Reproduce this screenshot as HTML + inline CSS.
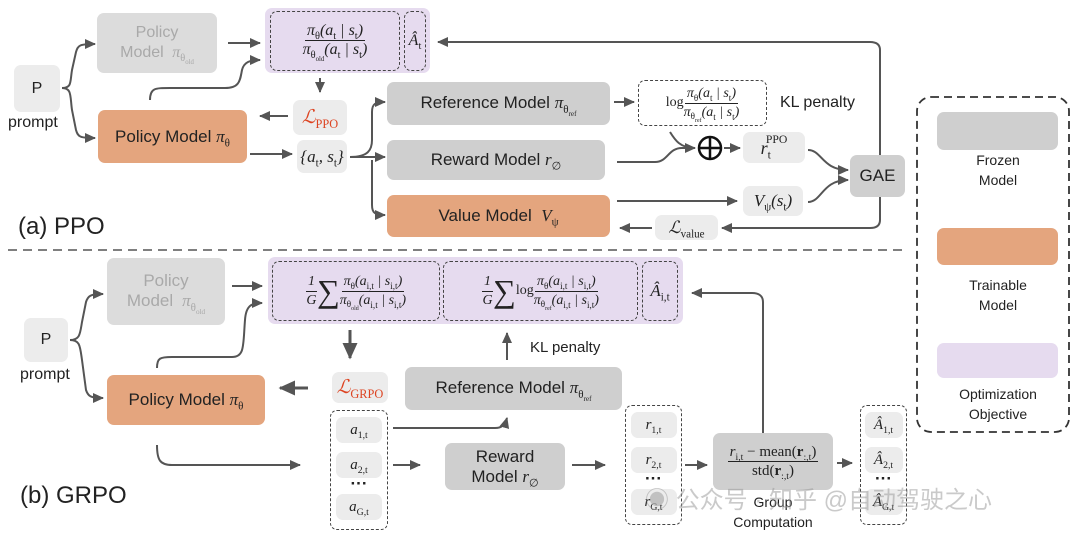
<!DOCTYPE html>
<html><head><meta charset="utf-8"><style>
body{margin:0;background:#fff;}
#c{position:relative;width:1080px;height:539px;overflow:hidden;font-family:"Liberation Sans",sans-serif;color:#222;}
.b{position:absolute;display:flex;align-items:center;justify-content:center;border-radius:7px;text-align:center;font-size:15px;line-height:20px;}
.g{background:#cfcfcf;}
.lg{background:#ececec;}
.o{background:#e4a57e;}
.p{background:#e6dbef;}
.f{background:#dcdcdc;color:#a9a9a9;}
.d{position:absolute;border:1.5px dashed #444;border-radius:7px;box-sizing:border-box;display:flex;align-items:center;justify-content:center;}
.m{font-family:"Liberation Serif",serif;font-style:italic;}
.fr{display:inline-flex;flex-direction:column;align-items:center;vertical-align:middle;font-family:"Liberation Serif",serif;font-style:italic;line-height:18px;}
.fr>span:first-child{border-bottom:1.2px solid #222;padding:0 2px;}
sub,sup{font-size:65%;font-style:normal;line-height:0;}
.t{position:absolute;font-size:15px;}
svg{position:absolute;left:0;top:0;}
.row{display:flex;align-items:center;}
</style></head><body><div id="c">
<svg width="1080" height="539" viewBox="0 0 1080 539">
<defs><marker id="a" markerWidth="6" markerHeight="6" refX="5" refY="3" orient="auto"><path d="M0,0.5 L5.5,3 L0,5.5 z" fill="#555"/></marker></defs>
<g stroke="#555" stroke-width="2" fill="none">
<path d="M62,88 C72,88 70,82 72,70 L76,52 C78,45 80,44 95,44" marker-end="url(#a)"/>
<path d="M62,88 C72,88 70,96 72,110 L76,130 C78,137 80,138 95,138" marker-end="url(#a)"/>
<path d="M228,43 H260" marker-end="url(#a)"/>
<path d="M150,100 C150,88 155,88 170,88 H225 C240,88 240,80 242,70 C244,62 250,60 260,60" marker-end="url(#a)"/>
<path d="M320,78 V92" marker-end="url(#a)"/>
<path d="M288,116 H260" marker-end="url(#a)"/>
<path d="M250,154 H292" marker-end="url(#a)"/>
<path d="M350,157 C368,157 372,150 372,140 V112 C372,104 375,102 385,102" marker-end="url(#a)"/>
<path d="M350,157 H385" marker-end="url(#a)"/>
<path d="M372,160 V205 C372,213 375,215 385,215" marker-end="url(#a)"/>
<path d="M614,102 H634" marker-end="url(#a)"/>
<path d="M617,162 H655 C668,162 668,148 682,148 H695" marker-end="url(#a)"/>
<path d="M670,132 C675,140 680,148 695,148"/>
<path d="M724,148 H740" marker-end="url(#a)"/>
<path d="M808,150 C822,150 822,170 848,170" marker-end="url(#a)"/>
<path d="M808,202 C822,202 822,180 848,180" marker-end="url(#a)"/>
<path d="M617,201 H737" marker-end="url(#a)"/>
<path d="M880,155 V50 C880,44 876,42 870,42 H438" marker-end="url(#a)"/>
<path d="M880,197 V220 C880,226 876,228 870,228 H722" marker-end="url(#a)"/>
<path d="M652,228 H620" marker-end="url(#a)"/>
<path d="M8,250 H908" stroke-dasharray="9,6" stroke-width="1.5"/>
<path d="M70,340 C80,340 80,334 82,322 L86,302 C88,296 90,294 103,294" marker-end="url(#a)"/>
<path d="M70,340 C80,340 80,346 82,360 L86,390 C88,396 90,398 103,398" marker-end="url(#a)"/>
<path d="M232,286 H262" marker-end="url(#a)"/>
<path d="M157,368 C157,358 160,357 172,357 H232 C245,357 243,345 245,320 C246,305 252,303 262,303" marker-end="url(#a)"/>
<path d="M350,330 V358" marker-end="url(#a)" stroke-width="3"/>
<path d="M308,388 H280" marker-end="url(#a)" stroke-width="3"/>
<path d="M157,445 C157,460 160,465 172,465 H300" marker-end="url(#a)"/>
<path d="M393,428 H495 C502,428 505,425 507,418" marker-end="url(#a)"/>
<path d="M393,465 H420" marker-end="url(#a)"/>
<path d="M572,465 H605" marker-end="url(#a)"/>
<path d="M685,465 H707" marker-end="url(#a)"/>
<path d="M837,463 H852" marker-end="url(#a)"/>
<path d="M763,433 V302 C763,296 759,293 752,293 H692" marker-end="url(#a)"/>
<path d="M507,360 V333" marker-end="url(#a)"/>
<rect x="917" y="97" width="152" height="335" rx="14" stroke="#333" stroke-dasharray="8,5" stroke-width="1.8"/>
</g>
<circle cx="710" cy="148" r="11" fill="none" stroke="#111" stroke-width="2.5"/>
<path d="M699,148 H721 M710,137 V159" stroke="#111" stroke-width="2.5"/>
</svg>

<div class="b f" style="left:97px;top:13px;width:120px;height:60px;font-size:16px;"><span>Policy<br>Model <span class="m">&nbsp;π<sub>θ<sub>old</sub></sub></span></span></div>
<div class="b p" style="left:265px;top:8px;width:165px;height:65px;"></div>
<div class="d" style="left:270px;top:11px;width:130px;height:60px;font-size:16px;"><span class="fr"><span>π<sub>θ</sub>(a<sub>t</sub> | s<sub>t</sub>)</span><span>π<sub>θ<sub>old</sub></sub>(a<sub>t</sub> | s<sub>t</sub>)</span></span></div>
<div class="d" style="left:404px;top:11px;width:22px;height:60px;font-size:16px;"><span class="m">Â<sub>t</sub></span></div>
<div class="b lg" style="left:14px;top:65px;width:46px;height:47px;font-size:16px;">P</div>
<div class="t" style="left:8px;top:114px;font-size:16px;">prompt</div>
<div class="b o" style="left:98px;top:110px;width:149px;height:53px;font-size:17px;"><span>Policy Model&nbsp;<span class="m">π<sub>θ</sub></span></span></div>
<div class="b lg" style="left:293px;top:100px;width:54px;height:35px;color:#d42;font-size:19px;"><span class="m">ℒ<sub>PPO</sub></span></div>
<div class="b lg" style="left:297px;top:140px;width:50px;height:33px;font-size:17px;"><span class="m">{a<sub>t</sub>, s<sub>t</sub>}</span></div>
<div class="b g" style="left:387px;top:82px;width:223px;height:43px;font-size:17px;"><span>Reference Model&nbsp;<span class="m">π<sub>θ<sub>ref</sub></sub></span></span></div>
<div class="b g" style="left:387px;top:140px;width:218px;height:40px;font-size:17px;"><span>Reward Model&nbsp;<span class="m">r<sub>∅</sub></span></span></div>
<div class="b o" style="left:387px;top:195px;width:223px;height:42px;font-size:17px;"><span>Value Model&nbsp;&nbsp;<span class="m">V<sub>ψ</sub></span></span></div>
<div class="d" style="left:638px;top:80px;width:129px;height:46px;border-width:1.2px;font-size:14px;"><span class="row"><span style="font-family:'Liberation Serif'">log</span><span class="fr"><span>π<sub>θ</sub>(a<sub>t</sub> | s<sub>t</sub>)</span><span>π<sub>θ<sub>ref</sub></sub>(a<sub>t</sub> | s<sub>t</sub>)</span></span></span></div>
<div class="t" style="left:780px;top:94px;font-size:16px;">KL penalty</div>
<div class="b lg" style="left:743px;top:132px;width:62px;height:31px;font-size:18px;"><span class="m">r<sub>t</sub><sup style="margin-left:-5px;position:relative;top:-4px">PPO</sup></span></div>
<div class="b lg" style="left:743px;top:186px;width:60px;height:30px;font-size:17px;"><span class="m">V<sub>ψ</sub>(s<sub>t</sub>)</span></div>
<div class="b g" style="left:850px;top:155px;width:55px;height:42px;font-size:17px;">GAE</div>
<div class="b lg" style="left:655px;top:215px;width:63px;height:25px;font-size:17px;"><span class="m">ℒ<sub>value</sub></span></div>
<div class="t" style="left:18px;top:213px;font-size:24px;">(a) PPO</div>

<div class="b g" style="left:937px;top:112px;width:121px;height:38px;"></div>
<div class="t" style="left:928px;top:150px;width:140px;text-align:center;font-size:14px;line-height:20px;">Frozen<br>Model</div>
<div class="b o" style="left:937px;top:228px;width:121px;height:37px;"></div>
<div class="t" style="left:928px;top:275px;width:140px;text-align:center;font-size:14px;line-height:20px;">Trainable<br>Model</div>
<div class="b p" style="left:937px;top:343px;width:121px;height:35px;"></div>
<div class="t" style="left:928px;top:384px;width:140px;text-align:center;font-size:14px;line-height:20px;">Optimization<br>Objective</div>

<div class="b f" style="left:107px;top:258px;width:118px;height:67px;font-size:17px;"><span>Policy<br>Model <span class="m">&nbsp;π<sub>θ<sub>old</sub></sub></span></span></div>
<div class="b lg" style="left:24px;top:318px;width:44px;height:44px;font-size:16px;">P</div>
<div class="t" style="left:20px;top:366px;font-size:16px;">prompt</div>
<div class="b o" style="left:107px;top:375px;width:158px;height:50px;font-size:17px;"><span>Policy Model&nbsp;<span class="m">π<sub>θ</sub></span></span></div>
<div class="b p" style="left:268px;top:257px;width:415px;height:67px;"></div>
<div class="d" style="left:272px;top:261px;width:168px;height:60px;font-size:14px;"><span class="row"><span class="fr"><span>1</span><span>G</span></span><span style="font-family:'Liberation Serif';font-size:32px;line-height:32px;">∑</span><span class="fr"><span>π<sub>θ</sub>(a<sub>i,t</sub> | s<sub>i,t</sub>)</span><span>π<sub>θ<sub>old</sub></sub>(a<sub>i,t</sub> | s<sub>i,t</sub>)</span></span></span></div>
<div class="d" style="left:443px;top:261px;width:195px;height:60px;font-size:14px;"><span class="row"><span class="fr"><span>1</span><span>G</span></span><span style="font-family:'Liberation Serif';font-size:32px;line-height:32px;">∑</span><span style="font-family:'Liberation Serif'">log</span><span class="fr"><span>π<sub>θ</sub>(a<sub>i,t</sub> | s<sub>i,t</sub>)</span><span>π<sub>θ<sub>ref</sub></sub>(a<sub>i,t</sub> | s<sub>i,t</sub>)</span></span></span></div>
<div class="d" style="left:642px;top:261px;width:36px;height:60px;font-size:17px;"><span class="m">Â<sub>i,t</sub></span></div>
<div class="t" style="left:530px;top:339px;font-size:15px;">KL penalty</div>
<div class="b lg" style="left:332px;top:372px;width:56px;height:31px;color:#d42;font-size:19px;"><span class="m">ℒ<sub>GRPO</sub></span></div>
<div class="b g" style="left:405px;top:367px;width:217px;height:43px;font-size:17px;"><span>Reference Model&nbsp;<span class="m">π<sub>θ<sub>ref</sub></sub></span></span></div>
<div class="d" style="left:330px;top:410px;width:58px;height:120px;flex-direction:column;justify-content:flex-start;padding-top:6px;font-size:17px;">
<div class="b lg" style="position:static;width:46px;height:26px;"><span class="m">a<sub>1,t</sub></span></div>
<div class="b lg" style="position:static;width:46px;height:26px;margin-top:9px;"><span class="m">a<sub>2,t</sub></span></div>
<div style="line-height:12px;font-weight:bold;">···</div>
<div class="b lg" style="position:static;width:46px;height:26px;margin-top:4px;"><span class="m">a<sub>G,t</sub></span></div></div>
<div class="b g" style="left:445px;top:443px;width:120px;height:47px;font-size:17px;"><span>Reward<br>Model&nbsp;<span class="m">r<sub>∅</sub></span></span></div>
<div class="d" style="left:625px;top:405px;width:57px;height:120px;flex-direction:column;justify-content:flex-start;padding-top:6px;font-size:17px;">
<div class="b lg" style="position:static;width:46px;height:26px;"><span class="m">r<sub>1,t</sub></span></div>
<div class="b lg" style="position:static;width:46px;height:26px;margin-top:9px;"><span class="m">r<sub>2,t</sub></span></div>
<div style="line-height:12px;font-weight:bold;">···</div>
<div class="b lg" style="position:static;width:46px;height:26px;margin-top:4px;"><span class="m">r<sub>G,t</sub></span></div></div>
<div class="b g" style="left:713px;top:433px;width:120px;height:57px;font-size:15px;"><span class="fr" style="font-style:normal"><span><i>r<sub>i,t</sub></i> − mean(<b>r</b><sub>:,t</sub>)</span><span>std(<b>r</b><sub>:,t</sub>)</span></span></div>
<div class="t" style="left:713px;top:492px;width:120px;text-align:center;font-size:14px;line-height:20px;">Group<br>Computation</div>
<div class="d" style="left:860px;top:405px;width:47px;height:120px;flex-direction:column;justify-content:flex-start;padding-top:6px;font-size:17px;">
<div class="b lg" style="position:static;width:38px;height:26px;"><span class="m">Â<sub>1,t</sub></span></div>
<div class="b lg" style="position:static;width:38px;height:26px;margin-top:9px;"><span class="m">Â<sub>2,t</sub></span></div>
<div style="line-height:12px;font-weight:bold;">···</div>
<div class="b lg" style="position:static;width:38px;height:26px;margin-top:4px;"><span class="m">Â<sub>G,t</sub></span></div></div>
<div class="t" style="left:20px;top:482px;font-size:24px;">(b) GRPO</div>
<div class="t" style="left:645px;top:480px;font-size:24px;color:rgba(150,150,150,0.5);font-family:'Liberation Sans','Noto Sans CJK SC',sans-serif;">◉ 公众号 · 知乎 @自动驾驶之心</div>
</div></body></html>
